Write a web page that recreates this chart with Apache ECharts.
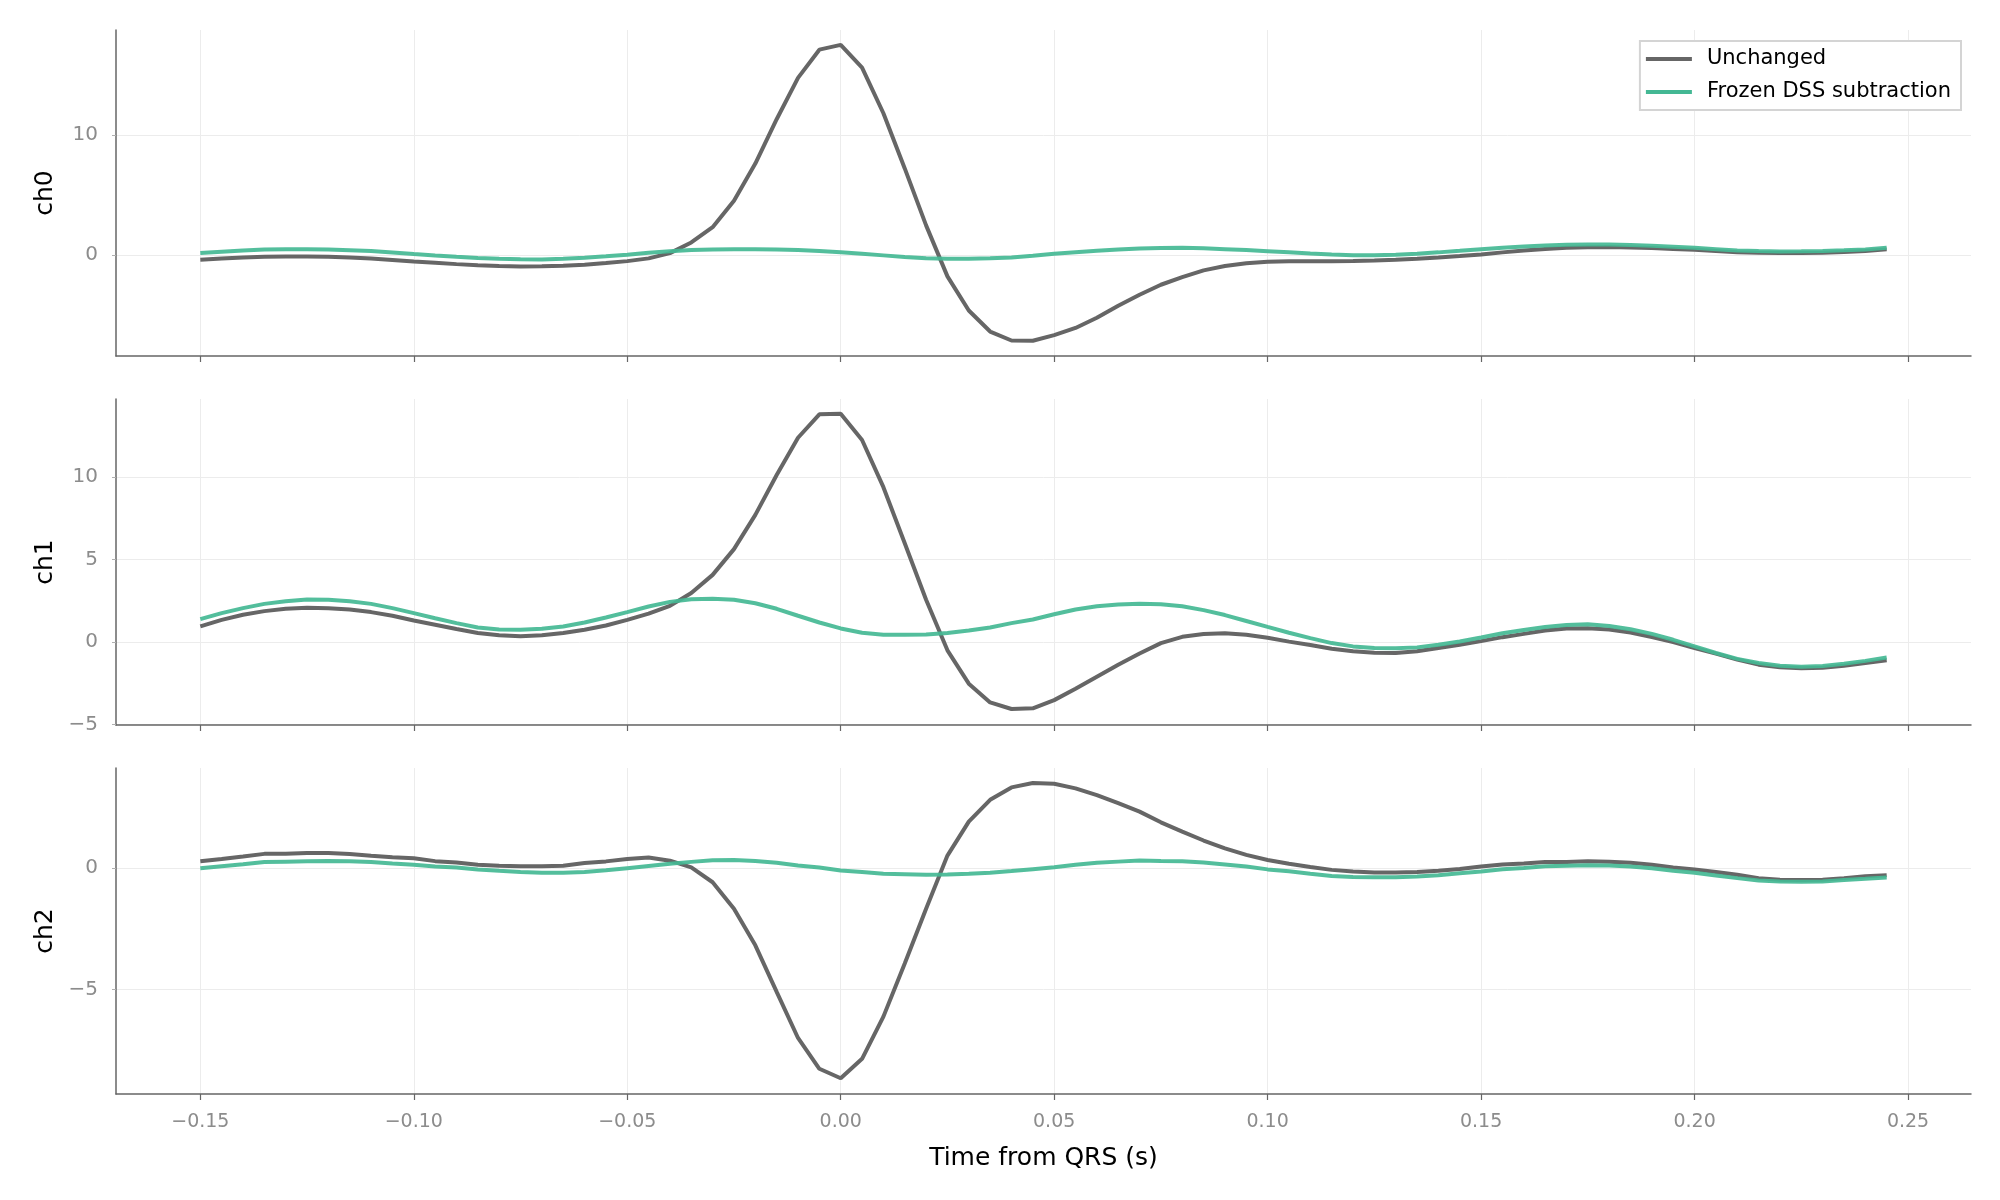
<!DOCTYPE html>
<html lang="en">
<head>
    <meta charset="UTF-8">
    <title>QRS average</title>
    <style>
        html, body { margin: 0; padding: 0; background: #fff; }
        #main { width: 2000px; height: 1200px; }
    </style>
    <script src="https://cdn.jsdelivr.net/npm/echarts@6/dist/echarts.min.js"></script>
</head>
<body>
    <div id="main"></div>
    <script type="text/javascript">
        // time axis (s)
        var times = [
            -0.150, -0.145, -0.140, -0.135, -0.130, -0.125, -0.120, -0.115, -0.110, -0.105,
            -0.100, -0.095, -0.090, -0.085, -0.080, -0.075, -0.070, -0.065, -0.060, -0.055,
            -0.050, -0.045, -0.040, -0.035, -0.030, -0.025, -0.020, -0.015, -0.010, -0.005,
            0.000, 0.005, 0.010, 0.015, 0.020, 0.025, 0.030, 0.035, 0.040, 0.045,
            0.050, 0.055, 0.060, 0.065, 0.070, 0.075, 0.080, 0.085, 0.090, 0.095,
            0.100, 0.105, 0.110, 0.115, 0.120, 0.125, 0.130, 0.135, 0.140, 0.145,
            0.150, 0.155, 0.160, 0.165, 0.170, 0.175, 0.180, 0.185, 0.190, 0.195,
            0.200, 0.205, 0.210, 0.215, 0.220, 0.225, 0.230, 0.235, 0.240, 0.245
        ];

        var ch0Unchanged = [
            -0.42, -0.32, -0.22, -0.17, -0.14, -0.14, -0.17, -0.23, -0.31, -0.43,
            -0.56, -0.67, -0.78, -0.87, -0.94, -0.97, -0.95, -0.92, -0.83, -0.69,
            -0.53, -0.30, 0.14, 1.03, 2.3, 4.5, 7.6, 11.3, 14.75, 17.1,
            17.5, 15.6, 11.8, 7.2, 2.45, -1.8, -4.65, -6.4, -7.15, -7.17,
            -6.7, -6.1, -5.25, -4.25, -3.33, -2.5, -1.86, -1.3, -0.94, -0.7,
            -0.58, -0.54, -0.54, -0.53, -0.52, -0.48, -0.42, -0.33, -0.22, -0.10,
            0.03, 0.20, 0.36, 0.49, 0.58, 0.63, 0.64, 0.61, 0.56, 0.49,
            0.42, 0.32, 0.22, 0.16, 0.14, 0.14, 0.17, 0.23, 0.31, 0.45
        ];
        var ch0Frozen = [
            0.14, 0.26, 0.36, 0.43, 0.47, 0.47, 0.44, 0.38, 0.31, 0.19,
            0.06, -0.06, -0.17, -0.26, -0.33, -0.37, -0.39, -0.34, -0.25, -0.13,
            0.0, 0.16, 0.3, 0.39, 0.44, 0.46, 0.47, 0.44, 0.39, 0.31,
            0.22, 0.09, -0.05, -0.19, -0.3, -0.33, -0.33, -0.29, -0.22, -0.08,
            0.08, 0.21, 0.33, 0.44, 0.53, 0.57, 0.58, 0.54, 0.47, 0.39,
            0.3, 0.2, 0.1, 0.03, -0.03, -0.03, 0.0, 0.09, 0.2, 0.33,
            0.47, 0.59, 0.69, 0.77, 0.83, 0.86, 0.86, 0.81, 0.75, 0.67,
            0.58, 0.47, 0.36, 0.31, 0.28, 0.29, 0.31, 0.37, 0.44, 0.58
        ];

        var ch1Unchanged = [
            0.95, 1.35, 1.66, 1.88, 2.02, 2.08, 2.06, 1.98, 1.82, 1.6,
            1.31, 1.05, 0.79, 0.55, 0.42, 0.36, 0.42, 0.55, 0.75, 1.01,
            1.35, 1.73, 2.2, 2.98, 4.08, 5.64, 7.72, 10.14, 12.4, 13.82,
            13.86, 12.26, 9.4, 6.0, 2.57, -0.5, -2.52, -3.66, -4.06, -4.02,
            -3.52, -2.83, -2.1, -1.37, -0.69, -0.06, 0.32, 0.49, 0.54, 0.45,
            0.26, 0.03, -0.18, -0.4, -0.56, -0.64, -0.66, -0.56, -0.36, -0.16,
            0.06, 0.3, 0.5, 0.7, 0.82, 0.84, 0.76, 0.58, 0.3, 0.0,
            -0.36, -0.7, -1.06, -1.37, -1.53, -1.59, -1.55, -1.43, -1.27, -1.1
        ];
        var ch1Frozen = [
            1.39, 1.76, 2.06, 2.32, 2.48, 2.59, 2.57, 2.48, 2.32, 2.06,
            1.76, 1.45, 1.15, 0.89, 0.77, 0.75, 0.81, 0.95, 1.19, 1.49,
            1.82, 2.16, 2.44, 2.6, 2.63, 2.57, 2.36, 2.02, 1.6, 1.19,
            0.83, 0.57, 0.44, 0.44, 0.46, 0.55, 0.71, 0.89, 1.15, 1.37,
            1.69, 1.98, 2.17, 2.28, 2.33, 2.3, 2.17, 1.94, 1.64, 1.28,
            0.92, 0.57, 0.24, -0.06, -0.26, -0.36, -0.38, -0.32, -0.16, 0.04,
            0.28, 0.54, 0.74, 0.92, 1.04, 1.08, 0.98, 0.78, 0.5, 0.14,
            -0.26, -0.66, -1.02, -1.27, -1.43, -1.49, -1.45, -1.31, -1.14, -0.94
        ];

        var ch2Unchanged = [
            0.29, 0.38, 0.48, 0.59, 0.59, 0.63, 0.63, 0.58, 0.51, 0.45,
            0.41, 0.29, 0.23, 0.14, 0.1, 0.08, 0.08, 0.1, 0.21, 0.28,
            0.38, 0.44, 0.31, 0.03, -0.58, -1.67, -3.18, -5.1, -7.0, -8.27,
            -8.66, -7.86, -6.12, -3.93, -1.67, 0.52, 1.92, 2.82, 3.33, 3.51,
            3.48, 3.29, 3.01, 2.68, 2.33, 1.89, 1.51, 1.14, 0.82, 0.55,
            0.34, 0.18, 0.05, -0.07, -0.14, -0.18, -0.18, -0.16, -0.11, -0.03,
            0.07, 0.15, 0.19, 0.25, 0.25, 0.29, 0.26, 0.22, 0.14, 0.03,
            -0.05, -0.16, -0.27, -0.41, -0.48, -0.49, -0.48, -0.41, -0.33, -0.29
        ];
        var ch2Frozen = [
            0.0, 0.08, 0.16, 0.25, 0.27, 0.29, 0.3, 0.29, 0.25, 0.19,
            0.14, 0.07, 0.03, -0.05, -0.11, -0.16, -0.19, -0.19, -0.16, -0.09,
            0.0, 0.09, 0.18, 0.26, 0.33, 0.34, 0.3, 0.22, 0.11, 0.03,
            -0.1, -0.16, -0.23, -0.25, -0.27, -0.26, -0.23, -0.19, -0.12, -0.04,
            0.04, 0.14, 0.22, 0.27, 0.32, 0.3, 0.29, 0.23, 0.15, 0.07,
            -0.05, -0.13, -0.23, -0.32, -0.36, -0.37, -0.37, -0.34, -0.29, -0.21,
            -0.14, -0.04, 0.01, 0.08, 0.1, 0.12, 0.11, 0.07, 0.0, -0.11,
            -0.19, -0.3, -0.41, -0.51, -0.55, -0.56, -0.55, -0.49, -0.44, -0.38
        ];

        var channelNames = ['ch0', 'ch1', 'ch2'];
        var xTicks = [-0.15, -0.10, -0.05, 0.00, 0.05, 0.10, 0.15, 0.20, 0.25];
        var yTicks = [[0, 10], [-5, 0, 5, 10], [-5, 0]];
        var yRanges = [[-8.44, 18.74], [-5.03, 14.75], [-9.31, 4.13]];
        var xRange = [-0.16975, 0.26475];

        var unchangedSets = [ch0Unchanged, ch1Unchanged, ch2Unchanged];
        var frozenSets = [ch0Frozen, ch1Frozen, ch2Frozen];

        var GRAY = '#666666';
        var TEAL = '#44b894';
        var FONT = 'DejaVu Sans';

        function pairs(vals) {
            return times.map(function (t, i) { return [t, vals[i]]; });
        }
        function minusFmt(s) {
            return s.replace('-', '\u2212');
        }

        var grids = [
            { left: 116, right: 29, top: 30, height: 326 },
            { left: 116, right: 29, top: 399, height: 326 },
            { left: 116, right: 29, top: 768, height: 326 }
        ];

        var xAxes = [], yAxes = [], series = [];
        for (var i = 0; i < 3; i++) {
            var last = i === 2;
            xAxes.push({
                type: 'value',
                gridIndex: i,
                min: xRange[0],
                max: xRange[1],
                name: last ? 'Time from QRS (s)' : '',
                nameLocation: 'middle',
                nameGap: 52,
                nameTextStyle: { color: '#000', fontSize: 25, fontFamily: FONT },
                axisLine: { show: true, onZero: false, lineStyle: { color: '#666', width: 1.5 } },
                axisTick: { show: true, customValues: xTicks, length: 6, lineStyle: { color: '#666', width: 1.2 } },
                axisLabel: {
                    show: last,
                    customValues: xTicks,
                    margin: 19,
                    color: '#8c8c8c',
                    fontSize: 19,
                    fontFamily: FONT,
                    formatter: function (v) { return minusFmt(v.toFixed(2)); }
                },
                splitLine: { show: true, lineStyle: { color: '#ececec', width: 1 } }
            });
            yAxes.push({
                type: 'value',
                gridIndex: i,
                min: yRanges[i][0],
                max: yRanges[i][1],
                name: channelNames[i],
                nameLocation: 'middle',
                nameGap: 58,
                nameRotate: 90,
                nameTextStyle: { color: '#000', fontSize: 25, fontFamily: FONT },
                axisLine: { show: true, onZero: false, lineStyle: { color: '#666', width: 1.5 } },
                axisTick: { show: true, customValues: yTicks[i], length: 4, lineStyle: { color: '#b0b0b0' } },
                axisLabel: {
                    customValues: yTicks[i],
                    margin: 18,
                    color: '#8c8c8c',
                    fontSize: 20,
                    fontFamily: FONT,
                    formatter: function (v) { return minusFmt(String(Math.round(v))); }
                },
                splitLine: { show: true, lineStyle: { color: '#ececec', width: 1 } }
            });
            series.push({
                name: 'Unchanged',
                type: 'line',
                xAxisIndex: i,
                yAxisIndex: i,
                data: pairs(unchangedSets[i]),
                symbol: 'none',
                lineStyle: { color: GRAY, width: 4 },
                itemStyle: { color: GRAY },
                z: 3
            });
            series.push({
                name: 'Frozen DSS subtraction',
                type: 'line',
                xAxisIndex: i,
                yAxisIndex: i,
                data: pairs(frozenSets[i]),
                symbol: 'none',
                lineStyle: { color: TEAL, width: 4, opacity: 0.92 },
                itemStyle: { color: TEAL },
                z: 4
            });
        }

        var chart = echarts.init(document.getElementById('main'));
        chart.setOption({
            animation: false,
            backgroundColor: '#fff',
            grid: grids,
            xAxis: xAxes,
            yAxis: yAxes,
            legend: {
                data: ['Unchanged', 'Frozen DSS subtraction'],
                orient: 'vertical',
                right: 39,
                top: 41,
                icon: 'rect',
                padding: [7, 10, 7, 6],
                itemWidth: 46,
                itemHeight: 4,
                itemGap: 11,
                backgroundColor: '#fff',
                borderColor: '#d4d4d4',
                borderWidth: 2,
                borderRadius: 0,
                textStyle: { color: '#000', fontSize: 21, lineHeight: 22, fontFamily: FONT, padding: [0, 0, 0, 10] }
            },
            series: series
        });
    </script>
</body>
</html>
